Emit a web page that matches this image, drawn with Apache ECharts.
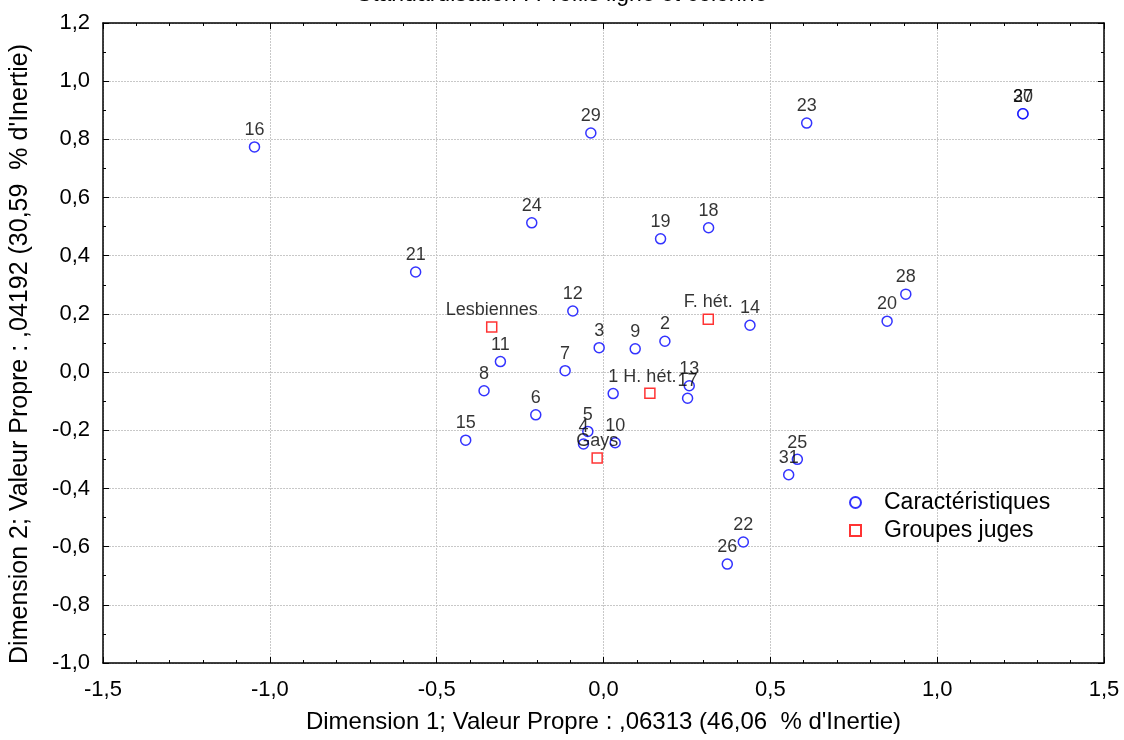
<!DOCTYPE html>
<html><head><meta charset="utf-8">
<script src="https://cdn.jsdelivr.net/npm/echarts@6/dist/echarts.min.js"></script>
<style>html,body{margin:0;padding:0;background:#fff}#c{width:1124px;height:740px}</style>
</head><body><div id="c"></div>
<script>
var charNames = ['1','2','3','4','5','6','7','8','9','10','11','12','13','14','15','16','17','18','19','20','21','22','23','24','25','26','27','28','29','30','31'];
var charX = [0.029,0.184,-0.013,-0.060,-0.047,-0.203,-0.115,-0.358,0.095,0.035,-0.309,-0.092,0.257,0.439,-0.413,-1.046,0.252,0.315,0.171,0.850,-0.563,0.419,0.609,-0.215,0.581,0.371,1.257,0.906,-0.038,1.257,0.555];
var charY = [-0.074,0.106,0.084,-0.247,-0.204,-0.147,0.005,-0.064,0.080,-0.243,0.036,0.210,-0.047,0.161,-0.234,0.774,-0.090,0.496,0.458,0.175,0.344,-0.584,0.856,0.513,-0.300,-0.660,0.888,0.268,0.822,0.888,-0.353];
var groupNames = ['Lesbiennes','F. hét.','H. hét.','Gays'];
var groupX = [-0.335,0.314,0.139,-0.019];
var groupY = [0.155,0.182,-0.073,-0.295];
var xTitle = "Dimension 1; Valeur Propre : ,06313 (46,06  % d'Inertie)";
var yTitle = "Dimension 2; Valeur Propre : ,04192 (30,59  % d'Inertie)";
var chartTitle = "Standardisation : Profils ligne et colonne";

function pts(n, x, y){ return n.map(function(s,i){ return {name:s, value:[x[i], y[i]]}; }); }
function fmt(v){ return v.toFixed(1).replace('.', ','); }
var FONT = 'Liberation Sans, Arial, sans-serif';

var chart = echarts.init(document.getElementById('c'));
var axCommon = {
  axisLine:{show:true, onZero:false, lineStyle:{color:'#000', width:1.5}},
  axisTick:{show:true, inside:true, length:6, lineStyle:{color:'#000', width:1}}
};
function xa(pos, labels){
  return Object.assign({}, axCommon, {
    type:'value', position:pos, min:-1.5, max:1.5, interval:0.5,
    minorTick:{show:true, splitNumber:5, length:3, lineStyle:{color:'#000'}},
    splitLine:{show:labels, lineStyle:{color:'#c8c8c8', type:[2,1], width:1}},
    axisLabel:{show:labels, formatter:fmt, color:'#000', fontSize:22, fontFamily:FONT, margin:16},
    name: labels ? xTitle : '', nameLocation:'middle', nameGap:47,
    nameTextStyle:{color:'#000', fontSize:24, fontFamily:FONT}
  });
}
function ya(pos, labels){
  return Object.assign({}, axCommon, {
    type:'value', position:pos, min:-1.0, max:1.2, interval:0.2,
    minorTick:{show:true, splitNumber:2, length:3, lineStyle:{color:'#000'}},
    splitLine:{show:labels, lineStyle:{color:'#c8c8c8', type:[2,1], width:1}},
    axisLabel:{show:labels, formatter:fmt, color:'#000', fontSize:22, fontFamily:FONT, margin:13},
    name: labels ? yTitle : '', nameLocation:'middle', nameGap:70,
    nameTextStyle:{color:'#000', fontSize:25, fontFamily:FONT, padding:[0,22,0,0]}
  });
}
chart.setOption({
  backgroundColor:'#fff',
  animation:false,
  title:{text:chartTitle, left:'center', top:-17, padding:0, textStyle:{color:'#000', fontSize:23, fontWeight:'normal', fontFamily:FONT}},
  grid:{left:103, right:20, top:23, bottom:77},
  xAxis:[xa('bottom', true), xa('top', false)],
  yAxis:[ya('left', true), ya('right', false)],
  legend:{
    orient:'vertical', left:844, top:486, itemWidth:11, itemHeight:11, itemGap:5,
    textStyle:{color:'#000', fontSize:23, fontFamily:FONT, lineHeight:23, padding:[0,0,0,18]},
    data:['Caractéristiques','Groupes juges']
  },
  series:[
    {name:'Caractéristiques', type:'scatter', symbol:'circle', symbolSize:10,
     itemStyle:{color:'#fff', borderColor:'#0000ff', borderWidth:1.5},
     label:{show:true, position:'top', distance:2, formatter:'{b}', color:'#000', fontSize:18, fontFamily:FONT},
     data:pts(charNames, charX, charY)},
    {name:'Groupes juges', type:'scatter', symbol:'rect', symbolSize:10,
     itemStyle:{color:'#fff', borderColor:'#ff0000', borderWidth:1.5},
     label:{show:true, position:'top', distance:2, formatter:'{b}', color:'#000', fontSize:18, fontFamily:FONT},
     data:pts(groupNames, groupX, groupY)}
  ]
});
</script></body></html>
